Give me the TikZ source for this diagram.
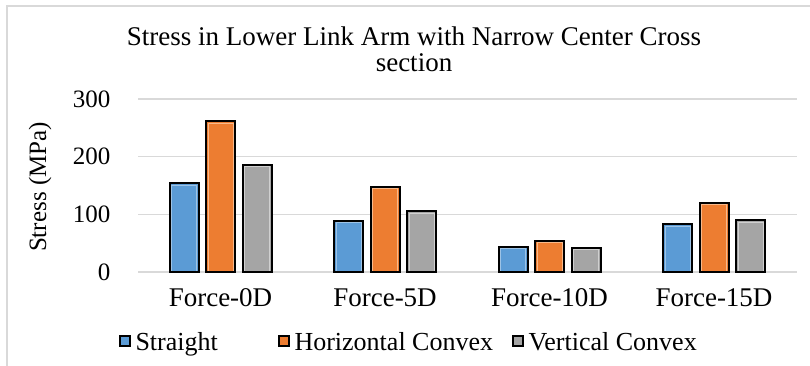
\documentclass[tikz,border=0pt]{standalone}
\usepackage{fontspec}
\setmainfont{Liberation Serif}
\definecolor{sblue}{HTML}{5B9BD5}
\definecolor{sbluel}{HTML}{9DC3E6}
\definecolor{sorange}{HTML}{ED7D31}
\definecolor{sorangel}{HTML}{F8B98A}
\definecolor{sgray}{HTML}{A5A5A5}
\definecolor{sgrayl}{HTML}{D0D0D0}
\definecolor{gridc}{HTML}{D9D9D9}
\tikzset{
  ticklabel/.style={anchor=east, font=\fontsize{25}{30}\selectfont},
  catlabel/.style={anchor=base, font=\fontsize{27}{30}\selectfont},
  titletext/.style={anchor=base, font=\fontsize{27}{30}\selectfont},
  legendtext/.style={anchor=base west, font=\fontsize{26}{30}\selectfont},
  legendkey/.style={draw=black, line width=1.6pt, minimum size=10pt, inner sep=0pt},
  gridline/.style={gridc, line width=1.4pt},
  barframe/.style={draw=black, line width=2pt},
}
% one bar: fill colour, highlight colour, left x, right x, value
\newcommand\stressbar[5]{%
  \fill[#1] (#3,272) rectangle (#4,{272-0.5767*#5});
  \draw[#2, line width=0.8pt] ({#3+2},272) rectangle ({#4-2},{272-0.5767*#5+2});
  \draw[barframe] (#3,272) rectangle (#4,{272-0.5767*#5});
}
\begin{document}
\begin{tikzpicture}[x=1pt,y=-1pt]
\useasboundingbox (0,0) rectangle (810,366);
\fill[white] (0,0) rectangle (810,366);
% chart frame
\draw[gridc, line width=1.2pt] (7,366) -- (7,6) -- (810,6);
% title
\node[titletext] (title1) at (414,46) {Stress in Lower Link Arm with Narrow Center Cross};
\node[titletext] (title2) at (414,72) {section};
% value axis
\node[rotate=90, font=\fontsize{25}{30}\selectfont] (ylab) at (40,187) {Stress (MPa)};
\foreach \v in {0,100,200,300} {
  \draw[gridline] (138,{272-0.5767*\v}) -- (797,{272-0.5767*\v});
  \node[ticklabel] (tick\v) at (114,{272-0.5767*\v}) {\v};
}
% bars per load case
\foreach \i/\a/\b/\c/\name in {0/154/261/186/0D, 1/89/148/105/5D, 2/44/54/42/10D, 3/83/120/90/15D} {
  \pgfmathsetmacro\cx{220.5+164.5*\i}
  \stressbar{sblue}{sbluel}{\cx-51}{\cx-22}{\a}
  \stressbar{sorange}{sorangel}{\cx-14.5}{\cx+14.5}{\b}
  \stressbar{sgray}{sgrayl}{\cx+22}{\cx+51}{\c}
  \node[catlabel] (cat\i) at (\cx,306) {Force-\name};
}
% legend
\node[legendkey, fill=sblue] (key1) at (125,341) {};
\node[legendtext] (leg1) at (132,350) {Straight};
\node[legendkey, fill=sorange] (key2) at (284,341) {};
\node[legendtext] (leg2) at (291,350) {Horizontal Convex};
\node[legendkey, fill=sgray] (key3) at (518,341) {};
\node[legendtext] (leg3) at (525,350) {Vertical Convex};
\end{tikzpicture}
\end{document}
